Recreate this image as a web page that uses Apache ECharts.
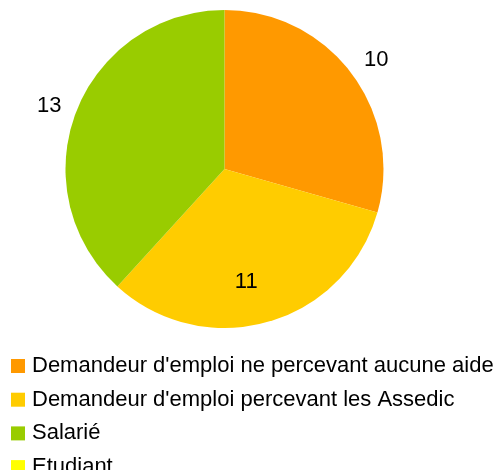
<!DOCTYPE html>
<html lang="fr">
<head>
<meta charset="UTF-8">
<script src="https://cdn.jsdelivr.net/npm/echarts@6/dist/echarts.min.js"></script>
<style>
    html, body, #main { width: 100%; height: 100%; margin: 0; background: #fff; }
</style>
</head>
<body>
<div id="main"></div>
<script>
    var categories = ['Demandeur d\'emploi ne percevant aucune aide', 'Demandeur d\'emploi percevant les Assedic', 'Salarié', 'Etudiant'];
    var values = [10, 11, 13, 0];
    var colors = ['#ff9900', '#ffcc00', '#99cc00', '#ffff00'];

    var chart = echarts.init(document.getElementById('main'));

    var center = [224.5, 169];
    var font = 'Liberation Sans, Arial, sans-serif';

    // same data for every layer, only the label visibility changes
    function pieData(showFn) {
        return categories.map(function (name, i) {
            return {
                name: name,
                value: values[i],
                label: { show: showFn(i) }
            };
        });
    }

    function labelStyle(offset) {
        return {
            position: 'inside',
            formatter: '{c}',
            color: '#000',
            fontFamily: font,
            fontSize: 22,
            offset: offset
        };
    }

    var option = {
        color: colors,
        animation: false,
        legend: {
            orient: 'vertical',
            left: 6,
            top: 350,
            height: 160,
            itemWidth: 14,
            itemHeight: 14,
            itemGap: 11.7,
            icon: 'rect',
            data: categories,
            textStyle: { fontFamily: font, fontSize: 22, lineHeight: 22, color: '#000', padding: [0, 0, 0, 2] }
        },
        series: [
            {
                type: 'pie',
                center: center,
                radius: 159,
                startAngle: 90,
                clockwise: true,
                label: { show: false },
                labelLine: { show: false },
                emphasis: { disabled: true },
                data: pieData(function () { return false; })
            },
            {
                // labels outside the pie
                type: 'pie',
                silent: true,
                center: center,
                radius: [0, 372],
                startAngle: 90,
                itemStyle: { color: 'transparent' },
                label: labelStyle([1, 5]),
                labelLine: { show: false },
                emphasis: { disabled: true },
                data: pieData(function (i) { return i === 0 || i === 2; })
            },
            {
                // label inside its slice
                type: 'pie',
                silent: true,
                center: center,
                radius: [0, 226],
                startAngle: 90,
                itemStyle: { color: 'transparent' },
                label: labelStyle([-10, 1]),
                labelLine: { show: false },
                emphasis: { disabled: true },
                data: pieData(function (i) { return i === 1; })
            }
        ]
    };

    chart.setOption(option);
    window.onresize = chart.resize;
</script>
</body>
</html>
